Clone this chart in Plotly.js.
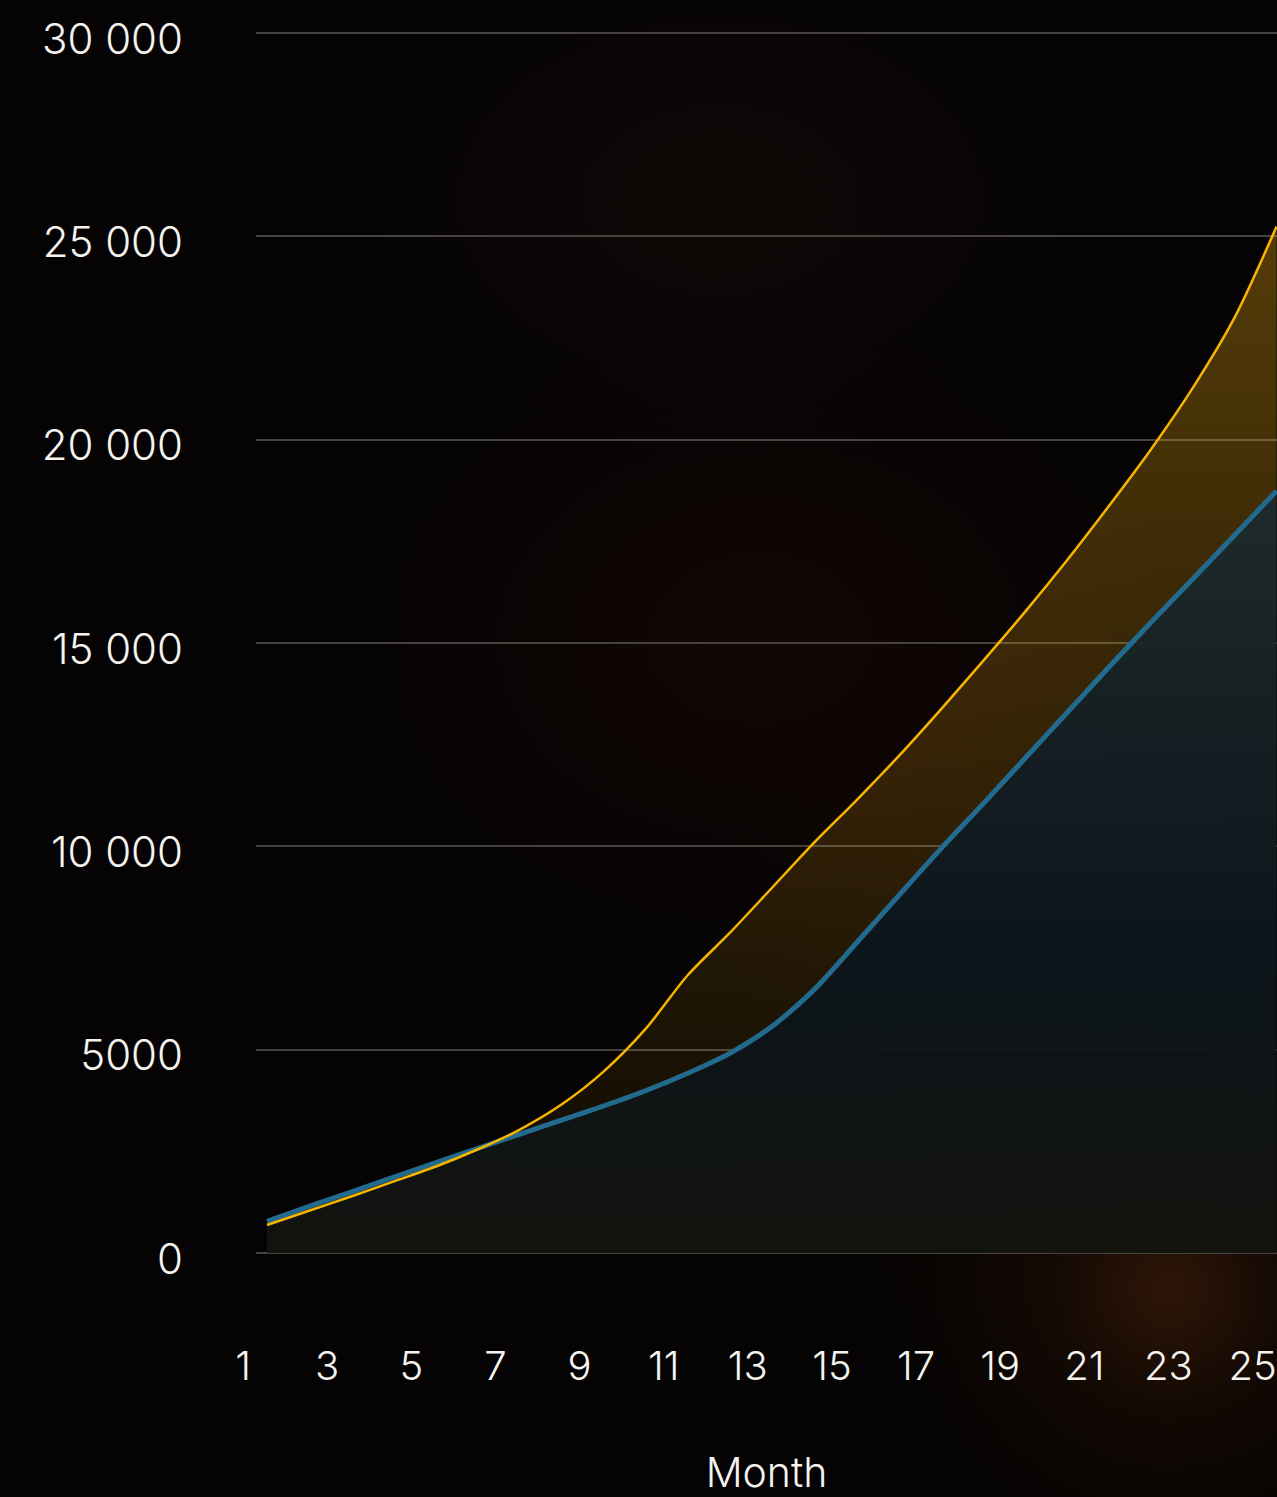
<!DOCTYPE html>
<html>
<head>
<meta charset="utf-8">
<script src="https://cdn.plot.ly/plotly-3.0.1.min.js"></script>
<style>
  html, body {
    margin: 0;
    padding: 0;
    width: 1277px;
    height: 1497px;
    overflow: hidden;
  }
  body {
    background:
      radial-gradient(circle at 1170px 1290px, rgba(74, 34, 10, 0.60) 0px, rgba(44, 20, 6, 0.35) 120px, rgba(0, 0, 0, 0) 270px),
      radial-gradient(ellipse 420px 320px at 760px 640px, rgba(34, 10, 8, 0.45), rgba(0, 0, 0, 0)),
      radial-gradient(ellipse 380px 260px at 720px 200px, rgba(26, 18, 14, 0.45), rgba(0, 0, 0, 0)),
      radial-gradient(ellipse 300px 400px at 1000px 1000px, rgba(24, 10, 6, 0.35), rgba(0, 0, 0, 0)),
      #050303;
  }
  #chart { width: 1277px; height: 1497px; }
</style>
</head>
<body>
<div id="chart"></div>
<script>
// Months on the horizontal axis
const months = [1, 2, 3, 4, 5, 6, 7, 8, 9, 10, 11, 12, 13, 14, 15, 16, 17, 18, 19, 20, 21, 22, 23, 24, 25];

// Steady growth (blue line)
const steadyGrowth = [780, 1145, 1500, 1860, 2215, 2570, 2920, 3265, 3615, 3990, 4420, 4910, 5570,
                      6470, 7610, 8770, 9920, 11020, 12140, 13265, 14390, 15490, 16570, 17650, 18740];

// Accelerated growth (yellow line)
const acceleratedGrowth = [690, 1040, 1390, 1755, 2120, 2545, 3030, 3650, 4460, 5510, 6830, 7870, 8975,
                           10085, 11120, 12200, 13345, 14530, 15740, 17010, 18350, 19740, 21260, 23000, 25240];

// Axis ticks
const xTickVals = [1, 3, 5, 7, 9, 11, 13, 15, 17, 19, 21, 23, 25];
const xTickText = ['1', '3', '5', '7', '9', '11', '13', '15', '17', '19', '21', '23', '25'];
const yTickVals = [0, 5000, 10000, 15000, 20000, 25000, 30000];
const yTickText = ['0', '5000', '10 000', '15 000', '20 000', '25 000', '30 000'];

const xTitle = 'Month';

const steadyTrace = {
  x: months,
  y: steadyGrowth,
  type: 'scatter',
  mode: 'lines',
  name: 'Steady',
  line: { color: '#236b8e', width: 5, shape: 'spline', smoothing: 0.8 },
  fill: 'tozeroy',
  fillgradient: {
    type: 'vertical',
    start: 0,
    stop: Math.max(...steadyGrowth),
    colorscale: [
      [0, 'rgba(19, 20, 15, 0.94)'],
      [0.4, 'rgba(12, 22, 29, 0.94)'],
      [1, 'rgba(32, 45, 46, 0.94)']
    ]
  },
  hoverinfo: 'skip'
};

const acceleratedTrace = {
  x: months,
  y: acceleratedGrowth,
  type: 'scatter',
  mode: 'lines',
  name: 'Accelerated',
  line: { color: '#f7b500', width: 2.5, shape: 'spline', smoothing: 0.8 },
  fill: 'tonexty',
  fillgradient: {
    type: 'vertical',
    start: 0,
    stop: Math.max(...acceleratedGrowth),
    colorscale: [
      [0, 'rgba(255, 180, 20, 0.03)'],
      [1, 'rgba(255, 180, 20, 0.32)']
    ]
  },
  hoverinfo: 'skip'
};

const fontFamily = 'Inter, Lato, sans-serif';
const textColor = '#f5f3f0';

const layout = {
  width: 1277,
  height: 1497,
  margin: { l: 256, r: 0, t: 31, b: 242 },
  paper_bgcolor: 'rgba(0,0,0,0)',
  plot_bgcolor: 'rgba(0,0,0,0)',
  showlegend: false,
  font: { family: fontFamily, color: textColor, size: 40, weight: 300 },
  xaxis: {
    range: [0.7386, 25.01],
    tickvals: xTickVals,
    ticktext: xTickText,
    showgrid: false,
    zeroline: false,
    showline: false,
    ticks: '',
    ticklabelstandoff: 84,
    ticklabelshift: -24,
    ticklabeloverflow: 'allow',
    tickfont: { family: fontFamily, size: 40, color: textColor, weight: 300 },
    title: {
      text: xTitle,
      standoff: 72,
      font: { family: fontFamily, size: 41, color: textColor, weight: 300 }
    }
  },
  yaxis: {
    range: [-49, 30049],
    tickvals: yTickVals,
    ticktext: yTickText,
    showgrid: true,
    gridcolor: '#46423f',
    gridwidth: 2,
    zeroline: false,
    showline: false,
    ticks: '',
    ticklabelstandoff: 72,
    ticklabelshift: 6,
    tickfont: { family: fontFamily, size: 42, color: textColor, weight: 300 }
  }
};

Plotly.newPlot('chart', [steadyTrace, acceleratedTrace], layout, { displayModeBar: false, staticPlot: true });
</script>
</body>
</html>
